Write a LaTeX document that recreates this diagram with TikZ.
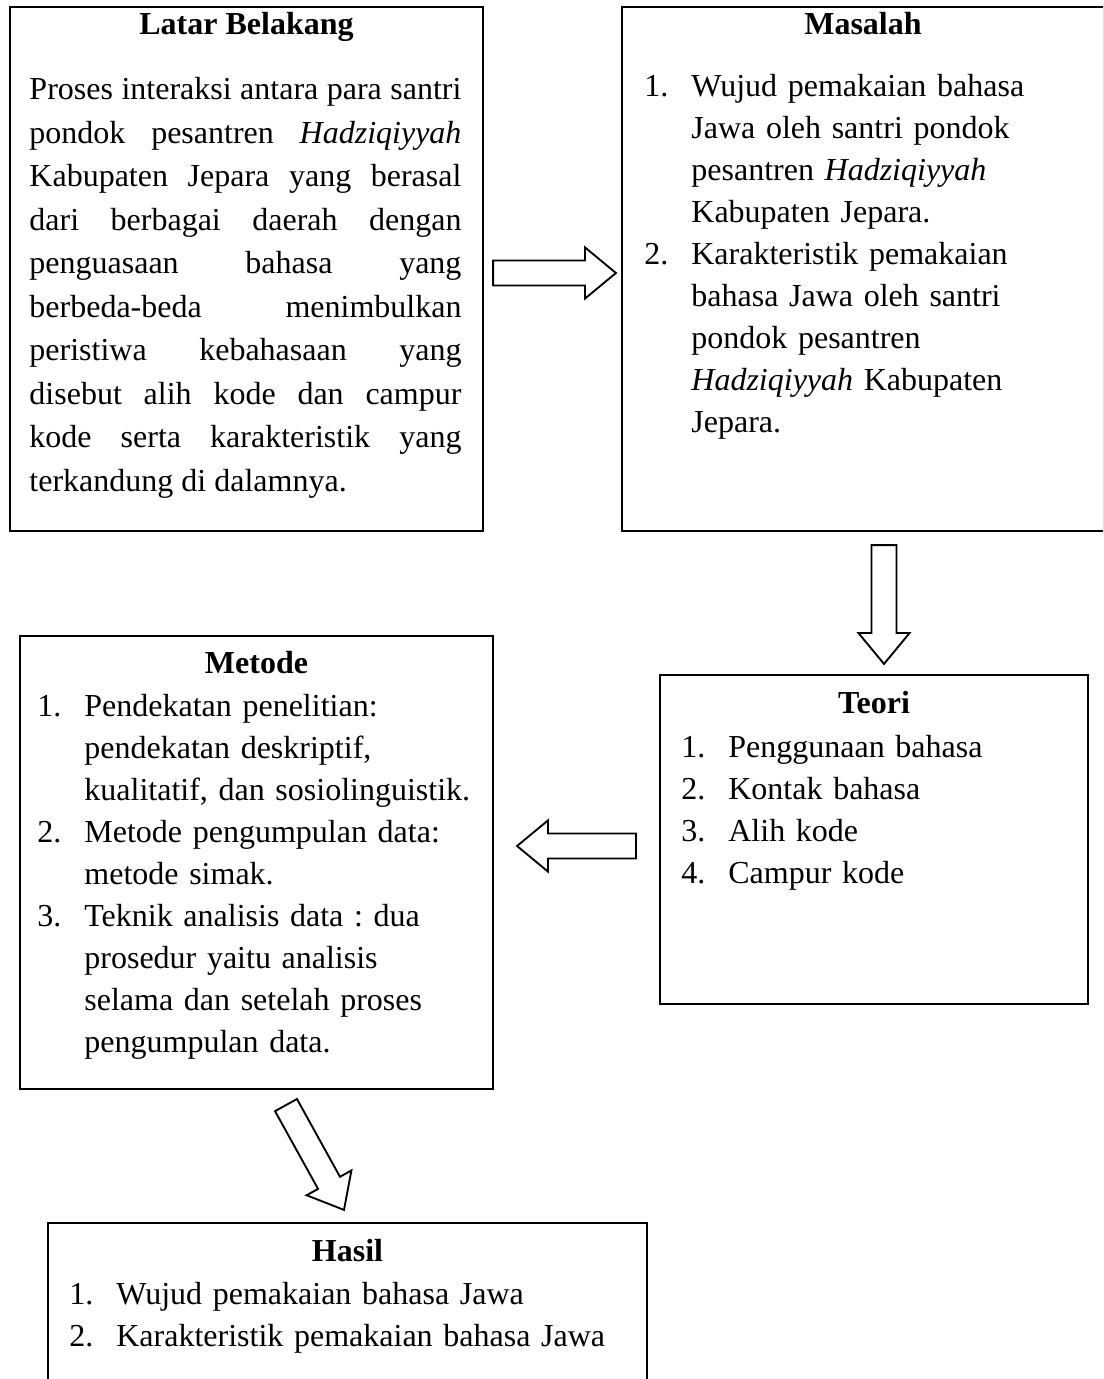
\documentclass[tikz,border=0pt]{standalone}
\usepackage{fontspec}
\setmainfont{Liberation Serif}
\usetikzlibrary{calc,fit,positioning}

\tolerance=10000
\hyphenpenalty=10000
\frenchspacing

\newcommand{\boxfont}{\fontsize{12}{15.75}\selectfont}
\newcommand{\numind}{17.6pt}
\newcommand{\numitem}[2]{\hangindent=\numind\hangafter=1\noindent\makebox[\numind][l]{\strut#1}#2\par}

\tikzset{%
  box/.style = { draw, line width=0.8pt, inner sep=0pt },
  head/.style = { font=\boxfont\bfseries, anchor=base, inner sep=0pt },
  body/.style = { anchor=north west, inner sep=0pt, align=left, text width=#1 },
  barrow/.style = { draw, line width=0.7pt, line join=miter, fill=white }
}

% block arrow from #1 (tail) to #2 (tip)
\newcommand{\blockarrow}[2]{%
  \path let \p1 = ($(#2)-(#1)$), \n1 = {atan2(\y1,\x1)}, \n2 = {veclen(\x1,\y1)} in
    \pgfextra{\xdef\arrang{\n1}\xdef\arrlen{\n2}};
  \draw[barrow, shift={(#1)}, rotate=\arrang]
    (0pt,-4.7pt) -- ({\arrlen-11.6pt},-4.7pt) -- ({\arrlen-11.6pt},-9.6pt)
    -- (\arrlen,0pt) -- ({\arrlen-11.6pt},9.6pt) -- ({\arrlen-11.6pt},4.7pt)
    -- (0pt,4.7pt) -- cycle;
}

\begin{document}
\begin{tikzpicture}[x=0.375pt, y=-0.375pt, font=\boxfont]
  \useasboundingbox (0,0) rectangle (1103,1379);
  \clip (0,0) rectangle (1103,1379);

  % Boxes
  \node[box, fit={(10,7) (483,531)}] (latar) {};
  \node[box, fit={(622,7) (1104,531)}] (masalah) {};
  \node[box, fit={(660,675) (1088,1004)}] (teori) {};
  \node[box, fit={(20,636) (493,1089)}] (metode) {};
  \node[box, fit={(48,1223) (647,1420)}] (hasil) {};

  % Latar Belakang
  \node[head] (latarhead) at ($(latar.north)+(0,29)$) {Latar Belakang};
  \node[body=162pt, align=justify, font=\fontsize{12}{16.3}\selectfont] (latartxt)
    at ($(latar.north west)+(20,63)$)
    {\noindent\strut Proses interaksi antara para santri\linebreak
     pondok pesantren \textit{Hadziqiyyah}\linebreak
     Kabupaten Jepara yang berasal\linebreak
     dari berbagai daerah dengan\linebreak
     penguasaan bahasa yang\linebreak
     berbeda-beda menimbulkan\linebreak
     peristiwa kebahasaan yang\linebreak
     disebut alih kode dan campur\linebreak
     kode serta karakteristik yang\linebreak
     terkandung di dalamnya.};

  % Masalah
  \node[head] (masalahhead) at ($(masalah.north)+(0,29)$) {Masalah};
  \node[body=165pt] (masalahtxt) at ($(masalah.north west)+(23,61)$)
    {\numitem{1.}{Wujud pemakaian bahasa\newline Jawa oleh santri pondok\newline pesantren \textit{Hadziqiyyah}\newline Kabupaten Jepara.}
     \numitem{2.}{Karakteristik pemakaian\newline bahasa Jawa oleh santri\newline pondok pesantren\newline \textit{Hadziqiyyah} Kabupaten\newline Jepara.}};

  % Teori
  \node[head] (teorihead) at ($(teori.north)+(0,40)$) {Teori};
  \node[body=150pt] (teoritxt) at ($(teori.north west)+(22,54)$)
    {\numitem{1.}{Penggunaan bahasa}
     \numitem{2.}{Kontak bahasa}
     \numitem{3.}{Alih kode}
     \numitem{4.}{Campur kode}};

  % Metode
  \node[head] (metodehead) at ($(metode.north)+(0,39)$) {Metode};
  \node[body=170pt] (metodetxt) at ($(metode.north west)+(18,52)$)
    {\numitem{1.}{Pendekatan penelitian:\newline pendekatan deskriptif,\newline kualitatif, dan sosiolinguistik.}
     \numitem{2.}{Metode pengumpulan data:\newline metode simak.}
     \numitem{3.}{Teknik analisis data : dua\newline prosedur yaitu analisis\newline selama dan setelah proses\newline pengumpulan data.}};

  % Hasil
  \node[head] (hasilhead) at ($(hasil.north)+(0,40)$) {Hasil};
  \node[body=240pt] (hasiltxt) at ($(hasil.north west)+(22,53)$)
    {\numitem{1.}{Wujud pemakaian bahasa Jawa}
     \numitem{2.}{Karakteristik pemakaian bahasa Jawa}};

  % Block arrows
  \coordinate (r1) at ($(latar.east)+(9,4)$);
  \coordinate (r2) at ($(masalah.west)+(-5,4)$);
  \coordinate (d1) at ($(masalah.south)+(21,13)$);
  \coordinate (d2) at ($(teori.north)+(10,-10)$);
  \coordinate (l1) at ($(teori.west)+(-23,6.5)$);
  \coordinate (l2) at ($(metode.east)+(23,-16.5)$);
  \coordinate (g1) at ($(metode.south)+(29.5,15)$);
  \coordinate (g2) at ($(hasil.north)+(-3.5,-12)$);
  \blockarrow{r1}{r2}
  \blockarrow{d1}{d2}
  \blockarrow{l1}{l2}
  \blockarrow{g1}{g2}
\end{tikzpicture}
\end{document}
